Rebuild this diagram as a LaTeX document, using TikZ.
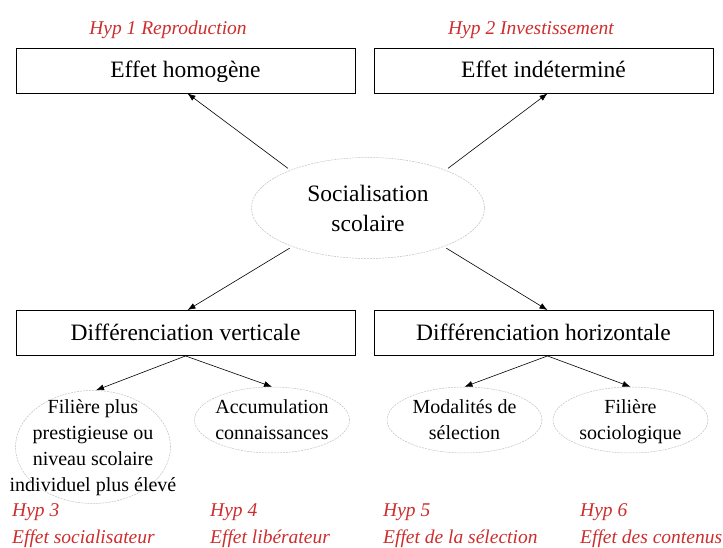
\documentclass[tikz,border=0pt]{standalone}
\usepackage{fontspec}
\setmainfont{Liberation Serif}
\usetikzlibrary{shapes.geometric,arrows.meta}
\definecolor{hypred}{RGB}{205,45,45}
\tikzset{
  boxnode/.style={draw=black, line width=0.9pt, minimum width=339pt, minimum height=45pt, inner sep=0pt, text height=16pt, text depth=1pt, font=\fontsize{23.5}{27}\selectfont},
  ellnode/.style={ellipse, draw=black!25, dashed, dash pattern=on 2pt off 1pt, line width=0.5pt, inner sep=0pt},
  elltext/.style={align=center, font=\fontsize{20}{26}\selectfont, inner sep=0pt},
  soctext/.style={align=center, font=\fontsize{23.5}{30}\selectfont, inner sep=0pt},
  hyplabel/.style={text=hypred, font=\itshape\fontsize{19.5}{22}\selectfont, inner sep=0pt},
  arr/.style={-{Latex[length=8pt,width=6pt]}, line width=0.6pt, black}
}
\begin{document}
\begin{tikzpicture}[x=1pt,y=-1pt]
\useasboundingbox (0,0) rectangle (723,548);
% top labels
\node[hyplabel, anchor=base] (h1) at (168,35) {Hyp 1 Reproduction};
\node[hyplabel, anchor=base] (h2) at (531,35) {Hyp 2 Investissement};
% boxes
\node[boxnode] (hom) at (185.5,70.5) {Effet homogène};
\node[boxnode] (ind) at (543.5,70.5) {Effet indéterminé};
\node[boxnode] (dv) at (185.5,333) {Différenciation verticale};
\node[boxnode] (dh) at (543.5,333) {Différenciation horizontale};
% central ellipse
\node[ellnode, minimum width=233pt, minimum height=101pt] (soc) at (368,208) {};
\node[soctext] (soct) at (368,211) {\strut Socialisation\\scolaire\strut};
% bottom ellipses
\node[ellnode, minimum width=155pt, minimum height=113pt] (e1) at (93,447) {};
\node[elltext] (t1) at (93,447) {\strut Filière plus\\prestigieuse ou\\niveau scolaire\\individuel plus élevé\strut};
\node[ellnode, minimum width=155pt, minimum height=66pt] (e2) at (272,420) {};
\node[elltext] (t2) at (272,421) {\strut Accumulation\\connaissances\strut};
\node[ellnode, minimum width=155pt, minimum height=66pt] (e3) at (464.5,420) {};
\node[elltext] (t3) at (464.5,421) {\strut Modalités de\\sélection\strut};
\node[ellnode, minimum width=155pt, minimum height=66pt] (e4) at (630.5,420) {};
\node[elltext] (t4) at (630.5,421) {\strut Filière\\sociologique\strut};
% bottom labels
\node[hyplabel, anchor=base west] (h3) at (12,516) {Hyp 3};
\node[hyplabel, anchor=base west] (h3b) at (12,543) {Effet socialisateur};
\node[hyplabel, anchor=base west] (h4) at (210,516) {Hyp 4};
\node[hyplabel, anchor=base west] (h4b) at (210,543) {Effet libérateur};
\node[hyplabel, anchor=base west] (h5) at (383,516) {Hyp 5};
\node[hyplabel, anchor=base west] (h5b) at (383,543) {Effet de la sélection};
\node[hyplabel, anchor=base west] (h6) at (580,516) {Hyp 6};
\node[hyplabel, anchor=base west] (h6b) at (580,543) {Effet des contenus};
% arrows
\draw[arr, shorten <=3pt] (soc.154) -- ([xshift=2pt]hom.south);
\draw[arr, shorten <=3pt] (soc.26) -- ([xshift=4pt]ind.south);
\draw[arr, shorten <=3pt] (soc.207) -- ([xshift=2pt]dv.north);
\draw[arr, shorten <=3pt] (soc.333) -- ([xshift=4pt]dh.north);
\draw[arr] (dv.south) -- ([xshift=3pt]e1.north);
\draw[arr] (dv.south) -- (e2.north);
\draw[arr] ([xshift=4pt]dh.south) -- (e3.north);
\draw[arr] ([xshift=4pt]dh.south) -- (e4.north);
\end{tikzpicture}
\end{document}
